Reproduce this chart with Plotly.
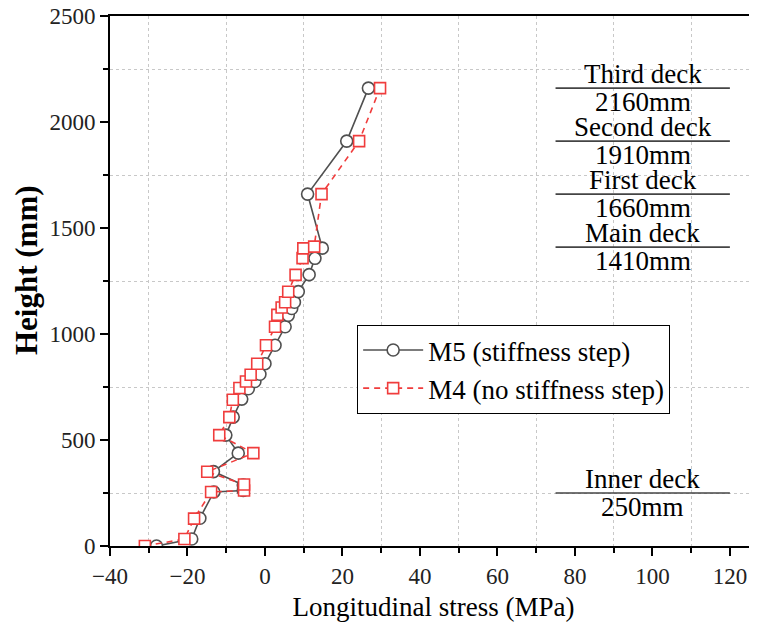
import plotly.graph_objects as go

# M5 (stiffness step)
m5_stress = [-28.0, -18.9, -16.8, -13.2, -5.6, -5.6, -13.3, -6.9, -10.1, -8.2, -6.0, -4.3, -2.6, -1.3, 0.0,
             2.6, 5.2, 6.0, 6.9, 7.6, 8.6, 11.4, 12.9, 14.8, 11.0, 21.1, 26.7]
m5_height = [0, 33, 131, 255, 262, 288, 351, 438, 523, 608, 693, 742, 776, 810, 860,
             947, 1034, 1088, 1120, 1150, 1200, 1280, 1357, 1405, 1660, 1910, 2160]

# M4 (no stiffness step)
m4_stress = [-31.0, -20.8, -18.3, -13.9, -5.4, -5.4, -14.9, -3.0, -11.8, -9.2, -8.3, -6.6, -4.9, -3.7, -2.0,
             0.26, 2.6, 3.2, 4.3, 5.2, 6.0, 7.9, 9.7, 9.9, 12.7, 14.6, 24.3, 29.7]
m4_height = [0, 33, 129, 255, 262, 290, 350, 438, 523, 608, 690, 745, 776, 808, 860,
             947, 1034, 1090, 1125, 1150, 1199, 1279, 1358, 1404, 1412, 1660, 1910, 2160]

deck_names = ["Third deck", "Second deck", "First deck", "Main deck", "Inner deck"]
deck_heights = [2160, 1910, 1660, 1410, 250]
deck_labels = ["2160mm", "1910mm", "1660mm", "1410mm", "250mm"]

FONT = "Liberation Serif, Times New Roman, serif"

fig = go.Figure()
fig.add_trace(go.Scatter(
    x=m5_stress, y=m5_height, mode="lines+markers", name="M5 (stiffness step)",
    line=dict(color="#505050", width=1.6),
    marker=dict(symbol="circle", size=12, color="white", line=dict(color="#505050", width=1.6)),
))
fig.add_trace(go.Scatter(
    x=m4_stress, y=m4_height, mode="lines+markers", name="M4 (no stiffness step)",
    line=dict(color="#f03c3c", width=1.6, dash="6px,5px"),
    marker=dict(symbol="square", size=11, color="white", line=dict(color="#f03c3c", width=1.6)),
))

for name, h, lab in zip(deck_names, deck_heights, deck_labels):
    fig.add_shape(type="line", x0=75, x1=120, y0=h, y1=h, xref="x", yref="y",
                  line=dict(color="#444444", width=1.6))
    fig.add_annotation(x=97.5, y=h, xref="x", yref="y", text=name, showarrow=False,
                       yanchor="bottom", font=dict(family=FONT, size=27, color="black"), yshift=-3)
    fig.add_annotation(x=97.5, y=h, xref="x", yref="y", text=lab, showarrow=False,
                       yanchor="top", font=dict(family=FONT, size=27, color="black"), yshift=3)

# y-axis title as a positioned annotation
fig.add_annotation(x=-0.128, y=0.521, xref="paper", yref="paper", text="<b>Height (mm)</b>",
                   textangle=-90, showarrow=False, xanchor="center", yanchor="middle",
                   font=dict(family=FONT, size=31, color="black"))

# the page body adds an 8px offset, so the figure is sized to fill the window
fig.update_layout(
    width=749, height=619,
    margin=dict(l=102, r=0, t=8, b=81),
    plot_bgcolor="white", paper_bgcolor="white",
    font=dict(family=FONT, color="black"),
    showlegend=True,
    legend=dict(x=0.382, y=0.417, xanchor="left", yanchor="top",
                bordercolor="black", borderwidth=1, bgcolor="white",
                font=dict(family=FONT, size=27, color="black"),
                tracegroupgap=0, itemwidth=60),
)
fig.update_xaxes(
    range=[-40, 127], dtick=20, tick0=0, automargin=False, ticklabeloverflow="allow",
    showline=True, linecolor="black", linewidth=2, mirror=True,
    ticks="outside", ticklen=8, tickwidth=2, tickcolor="black",
    showgrid=False, zeroline=False,
    tickfont=dict(family=FONT, size=23, color="#222"),
    title=dict(text="Longitudinal stress (MPa)", font=dict(family=FONT, size=27, color="black"), standoff=10),
    minor=dict(dtick=10, ticks="outside", ticklen=5, tickwidth=2, tickcolor="black",
               showgrid=True, gridcolor="#c8c8c8", griddash="dot", gridwidth=1),
)
fig.update_yaxes(
    range=[0, 2500], dtick=500, tick0=0, automargin=False, ticklabeloverflow="allow",
    showline=True, linecolor="black", linewidth=2, mirror=False,
    ticks="outside", ticklen=8, tickwidth=2, tickcolor="black",
    showgrid=False, zeroline=False,
    tickfont=dict(family=FONT, size=23, color="#222"),
    minor=dict(dtick=250, ticks="outside", ticklen=5, tickwidth=2, tickcolor="black",
               showgrid=True, gridcolor="#c8c8c8", griddash="dot", gridwidth=1),
)

fig.write_html("out.html")
